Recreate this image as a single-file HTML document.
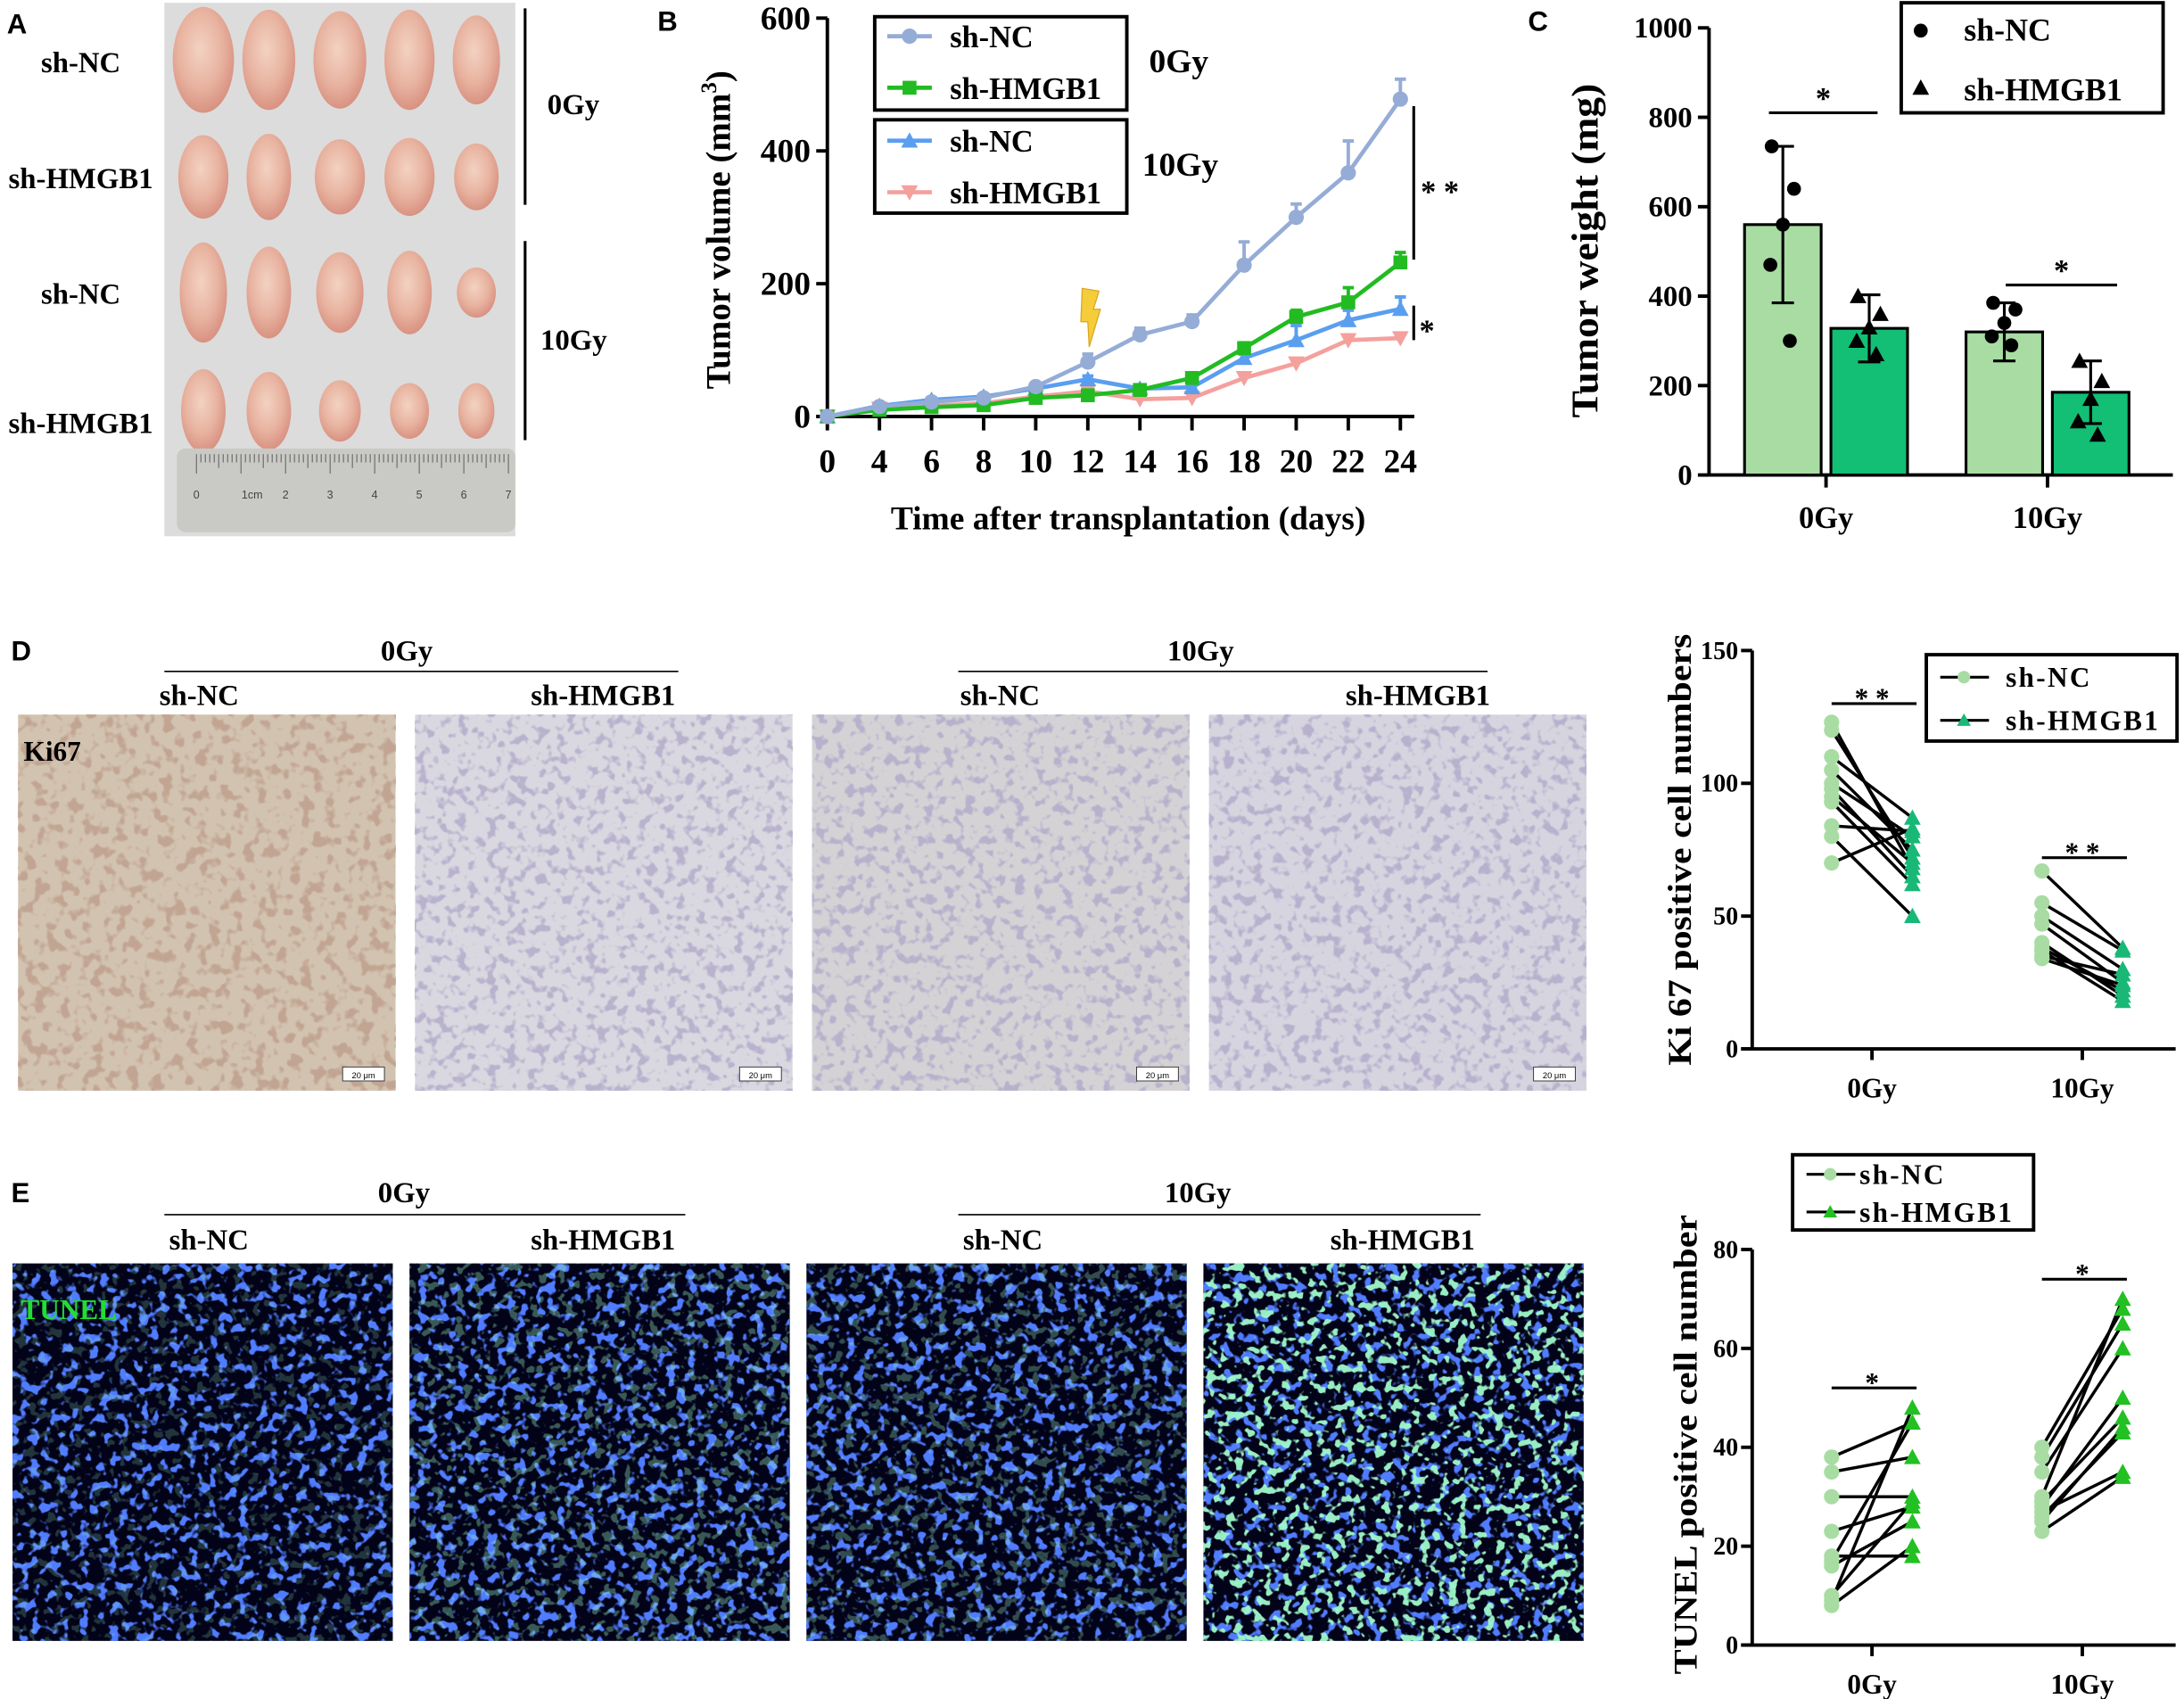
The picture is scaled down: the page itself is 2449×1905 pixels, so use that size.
<!DOCTYPE html>
<html><head><meta charset="utf-8">
<style>
html,body{margin:0;padding:0;background:#fff;}
svg{display:block;}
text{font-family:"Liberation Serif",serif;font-weight:bold;fill:#000;}
.sans{font-family:"Liberation Sans",sans-serif;}
</style></head>
<body>
<svg id="fig" width="2449" height="1905" viewBox="0 0 1568 1219.7" xmlns="http://www.w3.org/2000/svg">
<defs>
  <filter id="ihc1" x="0" y="0" width="100%" height="100%">
    <feTurbulence type="fractalNoise" baseFrequency="0.12" numOctaves="2" seed="3" result="n"/>
    <feColorMatrix in="n" type="matrix" values="0 0 0 0 0.5  0 0 0 0 0.33  0 0 0 0 0.25  7 0 0 0 -3.6"/>
  </filter>
  <filter id="ihc2" x="0" y="0" width="100%" height="100%">
    <feTurbulence type="fractalNoise" baseFrequency="0.14" numOctaves="2" seed="7" result="n"/>
    <feColorMatrix in="n" type="matrix" values="0 0 0 0 0.42  0 0 0 0 0.38  0 0 0 0 0.58  7 0 0 0 -3.7"/>
  </filter>
  <filter id="tun" x="0" y="0" width="100%" height="100%">
    <feTurbulence type="fractalNoise" baseFrequency="0.14" numOctaves="2" seed="5" result="n"/>
    <feColorMatrix in="n" type="matrix" values="0 0 0 0 0.08  0 0 0 0 0.2  0 0 0 0 1  10 0 0 0 -5.5"/>
  </filter>
  <filter id="tung" x="0" y="0" width="100%" height="100%">
    <feTurbulence type="fractalNoise" baseFrequency="0.15" numOctaves="2" seed="11" result="n"/>
    <feColorMatrix in="n" type="matrix" values="0 0 0 0 0.35  0 0 0 0 0.95  0 0 0 0 0.6  12 0 0 0 -6.8"/>
  </filter>
  <radialGradient id="tum" cx="0.45" cy="0.4" r="0.6">
    <stop offset="0" stop-color="#f3d2c2"/><stop offset="0.6" stop-color="#e8b3a0"/><stop offset="1" stop-color="#d99282"/>
  </radialGradient>
</defs>

<!-- Panel A -->
<g>
  <text class="sans" x="5" y="24" font-size="20">A</text>
  <rect x="118" y="2" width="252" height="383" fill="#dcdcdc"/>
  <g id="tumors"></g>
  <rect x="127" y="322" width="243" height="60" rx="6" fill="#c9c9c6"/>
  <g id="ruler"></g>
  <text x="58" y="52" font-size="21" text-anchor="middle">sh-NC</text>
  <text x="58" y="135" font-size="21" text-anchor="middle">sh-HMGB1</text>
  <text x="58" y="218" font-size="21" text-anchor="middle">sh-NC</text>
  <text x="58" y="311" font-size="21" text-anchor="middle">sh-HMGB1</text>
  <line x1="377" y1="6" x2="377" y2="147" stroke="#000" stroke-width="2"/>
  <line x1="377" y1="173" x2="377" y2="316" stroke="#000" stroke-width="2"/>
  <text x="393" y="82" font-size="21">0Gy</text>
  <text x="388" y="251" font-size="21">10Gy</text>
</g>

<!-- Panel B -->
<g id="panelB">
  <text class="sans" x="472" y="22" font-size="20">B</text>
</g>
<!-- Panel C -->
<g id="panelC">
  <text class="sans" x="1097" y="22" font-size="20">C</text>
</g>

<!-- Panel D -->
<g>
  <text class="sans" x="8" y="474" font-size="20">D</text>
  <text x="292" y="474" font-size="21" text-anchor="middle">0Gy</text>
  <line x1="118" y1="482" x2="487" y2="482" stroke="#000" stroke-width="1"/>
  <text x="862" y="474" font-size="21" text-anchor="middle">10Gy</text>
  <line x1="688" y1="482" x2="1068" y2="482" stroke="#000" stroke-width="1"/>
  <text x="143" y="506" font-size="21" text-anchor="middle">sh-NC</text>
  <text x="433" y="506" font-size="21" text-anchor="middle">sh-HMGB1</text>
  <text x="718" y="506" font-size="21" text-anchor="middle">sh-NC</text>
  <text x="1018" y="506" font-size="21" text-anchor="middle">sh-HMGB1</text>
  <g id="ihcImgs"></g>
  <text x="17" y="546" font-size="20">Ki67</text>
</g>
<g id="panelKi"></g>

<!-- Panel E -->
<g>
  <text class="sans" x="8" y="863" font-size="20">E</text>
  <text x="290" y="863" font-size="21" text-anchor="middle">0Gy</text>
  <line x1="118" y1="872" x2="492" y2="872" stroke="#000" stroke-width="1"/>
  <text x="860" y="863" font-size="21" text-anchor="middle">10Gy</text>
  <line x1="688" y1="872" x2="1063" y2="872" stroke="#000" stroke-width="1"/>
  <text x="150" y="897" font-size="21" text-anchor="middle">sh-NC</text>
  <text x="433" y="897" font-size="21" text-anchor="middle">sh-HMGB1</text>
  <text x="720" y="897" font-size="21" text-anchor="middle">sh-NC</text>
  <text x="1007" y="897" font-size="21" text-anchor="middle">sh-HMGB1</text>
  <g id="tunImgs"></g>
  <text x="15" y="947" font-size="20" style="fill:#22dd33">TUNEL</text>
</g>
<g id="panelTu"></g>
</svg>

<script>
// ---------- Panel B data ----------
const daysB = [0,4,6,8,10,12,14,16,18,20,22,24];
const ncB0 = [0,15,22,28,45,82,123,143,228,300,367,478];
const ncB0err = [0,3,5,4,4,12,10,10,35,20,48,30];
const hmB0 = [0,10,14,17,28,32,40,58,103,150,172,232];
const hmB0err = [0,2,3,3,3,4,4,5,8,10,22,15];
const ncB10 = [0,16,25,30,42,56,42,44,88,115,145,162];
const ncB10err = [0,2,3,3,3,5,4,4,6,22,15,18];
const hmB10 = [0,12,16,20,30,38,26,28,58,80,115,118];
const hmB10err = [0,2,2,2,3,3,3,3,5,5,8,6];
const yTicksB = [0,200,400,600];
// ---------- Panel C data ----------
const groupsC = ['0Gy','10Gy'];
const ncC = [560,320];
const ncCerr = [175,65];
const hmC = [328,185];
const hmCerr = [75,70];
const ncCpts = [[735,640,560,470,300],[385,370,340,310,290]];
const hmCpts = [[400,360,330,300,270],[255,210,170,120,90]];
const yTicksC = [0,200,400,600,800,1000];
// ---------- Ki67 data ----------
const groupsK = ['0Gy','10Gy'];
const kiNC0 = [123,120,110,105,100,98,95,93,84,80,70];
const kiHM0 = [68,72,87,75,80,65,70,62,82,50,83];
const kiNC10 = [67,55,50,47,40,38,37,35,34];
const kiHM10 = [38,37,30,25,20,22,18,28,24];
const yTicksK = [0,50,100,150];
// ---------- TUNEL data ----------
const tuNC0 = [38,35,30,23,18,17,16,9,8,10];
const tuHM0 = [45,38,30,28,18,45,25,48,20,29];
const tuNC10 = [40,38,35,30,29,28,27,25,23,26];
const tuHM10 = [68,65,60,70,46,50,35,44,34,43];
const yTicksT = [0,20,40,60,80];

const NS='http://www.w3.org/2000/svg';
function mk(parent, tag, attrs, txt){
  const e=document.createElementNS(NS,tag);
  for(const k in attrs) e.setAttribute(k,attrs[k]);
  if(txt!==undefined) e.textContent=txt;
  parent.appendChild(e); return e;
}

// ---------- Panel A tumors ----------
(function(){
  const g=document.getElementById('tumors');
  const cols=[146,193,244,294,342];
  const rows=[[43,[22,19,19,18,17],[38,36,35,36,32]],[127,[18,16,18,18,16],[30,31,27,28,24]],[210,[17,16,17,16,14],[36,33,29,30,18]],[295,[16,16,15,14,13],[30,28,22,20,20]]];
  rows.forEach((r,ri)=>{cols.forEach((cx,ci)=>{
    const el=mk(g,'ellipse',{cx:cx,cy:r[0],rx:r[1][ci],ry:r[2][ci],fill:'url(#tum)'});
    
    
  });});
  const rg=document.getElementById('ruler');
  for(let i=0;i<=70;i++){
    const x=141+i*3.2;
    mk(rg,'line',{x1:x,y1:326,x2:x,y2:326+(i%10==0?14:(i%5==0?10:6)),stroke:'#555','stroke-width':0.6});
  }
  ['0','1cm','2','3','4','5','6','7'].forEach((t,i)=>mk(rg,'text',{x:141+i*32+(i==1?8:0),y:358,'font-size':8,'text-anchor':'middle',class:'sans',style:'font-weight:normal;fill:#444'},t));
})();

// ---------- Panel B ----------
(function(){
  const g=document.getElementById('panelB');
  const x0=594, dx=37.4, yb=299, ky=286/600;
  const X=i=>x0+i*dx, Y=v=>yb-v*ky;
  mk(g,'line',{x1:x0,y1:Y(0),x2:x0,y2:Y(600),stroke:'#000','stroke-width':2.5});
  mk(g,'line',{x1:x0-8,y1:yb,x2:X(11)+10,y2:yb,stroke:'#000','stroke-width':2.5});
  yTicksB.forEach(t=>{mk(g,'line',{x1:x0-8,y1:Y(t),x2:x0,y2:Y(t),stroke:'#000','stroke-width':2.5});
    mk(g,'text',{x:x0-12,y:Y(t)+8,'font-size':24,'text-anchor':'end'},t);});
  daysB.forEach((d,i)=>{mk(g,'line',{x1:X(i),y1:yb,x2:X(i),y2:yb+10,stroke:'#000','stroke-width':2.5});
    mk(g,'text',{x:X(i),y:yb+40,'font-size':24,'text-anchor':'middle'},d);});
  mk(g,'text',{x:810,y:380,'font-size':24,'text-anchor':'middle'},'Time after transplantation (days)');
  const yl=mk(g,'text',{x:0,y:0,'font-size':25,'text-anchor':'middle',transform:'translate(524,165) rotate(-90)'},'Tumor volume  (mm');
  mk(yl,'tspan',{dy:-10,'font-size':16},'3');
  mk(yl,'tspan',{dy:10},')');
  const series=[[hmB10,hmB10err,'#f4a09d','tri-down','sh-hmgb1-10gy'],[ncB10,ncB10err,'#5a9ef0','tri','sh-nc-10gy'],[hmB0,hmB0err,'#22bb22','sq','sh-hmgb1-0gy'],[ncB0,ncB0err,'#95acd6','circ','sh-nc-0gy']];
  function marker(p,x,y,c,t){
    if(t=='circ') return mk(p,'circle',{cx:x,cy:y,r:5.5,fill:c});
    if(t=='sq') return mk(p,'rect',{x:x-5,y:y-5,width:10,height:10,fill:c});
    if(t=='tri') return mk(p,'path',{d:`M${x},${y-6}L${x+6},${y+5}L${x-6},${y+5}Z`,fill:c});
    return mk(p,'path',{d:`M${x},${y+6}L${x+6},${y-5}L${x-6},${y-5}Z`,fill:c});
  }
  series.forEach(s=>{
    const sg=mk(g,'g',{});
    
    
    s[0].forEach((v,i)=>{ if(s[1][i]>0){
      mk(sg,'line',{x1:X(i),y1:Y(v),x2:X(i),y2:Y(v+s[1][i]),stroke:s[2],'stroke-width':2.5});
      mk(sg,'line',{x1:X(i)-4,y1:Y(v+s[1][i]),x2:X(i)+4,y2:Y(v+s[1][i]),stroke:s[2],'stroke-width':2.5});}});
    mk(sg,'polyline',{points:s[0].map((v,i)=>X(i)+','+Y(v)).join(' '),fill:'none',stroke:s[2],'stroke-width':3});
    s[0].forEach((v,i)=>{const m=marker(sg,X(i),Y(v),s[2],s[3]);
      
      });
  });
  mk(g,'path',{d:'M777,207 L789,209 L785,222 L790,222 L782,249 L781,231 L776,231 Z',fill:'#f5cc3a',stroke:'#d9a520','stroke-width':0.8});
  mk(g,'line',{x1:1015,y1:Y(478)+5,x2:1015,y2:Y(232)-2,stroke:'#000','stroke-width':2});
  mk(g,'text',{x:1020,y:Y(340)+8,'font-size':22},'* *');
  mk(g,'line',{x1:1015,y1:Y(167),x2:1015,y2:Y(115),stroke:'#000','stroke-width':2});
  mk(g,'text',{x:1019,y:Y(130)+8,'font-size':22},'*');
  const lg=mk(g,'g',{});
  
  
  mk(lg,'rect',{x:628,y:12,width:181,height:67,fill:'#fff',stroke:'#000','stroke-width':2.5});
  mk(lg,'rect',{x:628,y:86,width:181,height:67,fill:'#fff',stroke:'#000','stroke-width':2.5});
  const le=[[26,'#95acd6','circ','sh-NC'],[63,'#22bb22','sq','sh-HMGB1'],[101,'#5a9ef0','tri','sh-NC'],[138,'#f4a09d','tri-down','sh-HMGB1']];
  le.forEach(l=>{mk(lg,'line',{x1:637,y1:l[0],x2:669,y2:l[0],stroke:l[1],'stroke-width':3});
    marker(lg,653,l[0],l[1],l[2]);
    mk(lg,'text',{x:682,y:l[0]+8,'font-size':22},l[3]);});
  mk(g,'text',{x:825,y:52,'font-size':24},'0Gy');
  mk(g,'text',{x:820,y:126,'font-size':24},'10Gy');
})();

// ---------- Panel C ----------
(function(){
  const g=document.getElementById('panelC');
  const ax=1227, yb=341, ky=321/1000;
  const Y=v=>yb-v*ky;
  const gx=[1311,1470], off=31, bw=55;
  mk(g,'line',{x1:ax,y1:Y(0),x2:ax,y2:Y(1000),stroke:'#000','stroke-width':2.5});
  mk(g,'line',{x1:ax,y1:yb,x2:1560,y2:yb,stroke:'#000','stroke-width':2.5});
  yTicksC.forEach(t=>{mk(g,'line',{x1:ax-8,y1:Y(t),x2:ax,y2:Y(t),stroke:'#000','stroke-width':2.5});
    mk(g,'text',{x:ax-12,y:Y(t)+7,'font-size':21,'text-anchor':'end'},t);});
  groupsC.forEach((lab,i)=>{
    mk(g,'line',{x1:gx[i],y1:yb,x2:gx[i],y2:yb+9,stroke:'#000','stroke-width':2.5});
    mk(g,'text',{x:gx[i],y:yb+38,'font-size':22,'text-anchor':'middle'},lab);
    [[ncC,ncCerr,ncCpts,'#a8dca3',-off,'circ'],[hmC,hmCerr,hmCpts,'#13be75',off,'tri']].forEach(s=>{
      const cx=gx[i]+s[4], v=s[0][i], e=s[1][i];
      const b=mk(g,'rect',{x:cx-bw/2,y:Y(v),width:bw,height:yb-Y(v),fill:s[3],stroke:'#000','stroke-width':2});
      
      
      mk(g,'line',{x1:cx,y1:Y(v-e),x2:cx,y2:Y(v+e),stroke:'#000','stroke-width':2});
      mk(g,'line',{x1:cx-8,y1:Y(v+e),x2:cx+8,y2:Y(v+e),stroke:'#000','stroke-width':2});
      mk(g,'line',{x1:cx-8,y1:Y(v-e),x2:cx+8,y2:Y(v-e),stroke:'#000','stroke-width':2});
      s[2][i].forEach((p,j)=>{const px=cx+[-8,8,0,-9,5][j];
        if(s[5]=='circ') mk(g,'circle',{cx:px,cy:Y(p),r:5,fill:'#000'});
        else mk(g,'path',{d:`M${px},${Y(p)-6}L${px+6},${Y(p)+5}L${px-6},${Y(p)+5}Z`,fill:'#000'});});
    });
  });
  mk(g,'line',{x1:1270,y1:Y(810),x2:1348,y2:Y(810),stroke:'#000','stroke-width':2});
  mk(g,'text',{x:1309,y:Y(810)-3,'font-size':22,'text-anchor':'middle'},'*');
  mk(g,'line',{x1:1440,y1:Y(425),x2:1520,y2:Y(425),stroke:'#000','stroke-width':2});
  mk(g,'text',{x:1480,y:Y(425)-3,'font-size':22,'text-anchor':'middle'},'*');
  mk(g,'text',{x:0,y:0,'font-size':27,'text-anchor':'middle',textLength:240,lengthAdjust:'spacingAndGlyphs',transform:'translate(1147,180) rotate(-90)'},'Tumor weight (mg)');
  const lg=mk(g,'g',{});
  
  
  mk(lg,'rect',{x:1365,y:2,width:188,height:79,fill:'#fff',stroke:'#000','stroke-width':2.5});
  mk(lg,'circle',{cx:1379,cy:22,r:5,fill:'#000'});
  mk(lg,'path',{d:'M1379,57L1385,68L1373,68Z',fill:'#000'});
  mk(lg,'text',{x:1410,y:29,'font-size':23},'sh-NC');
  mk(lg,'text',{x:1410,y:72,'font-size':23},'sh-HMGB1');
})();

// ---------- Micrograph images ----------
(function(){
  const g=document.getElementById('ihcImgs');
  const xs=[13,298,583,868];
  const base=['#d2c3b0','#d9d7df','#d5d2d6','#d6d4df'];
  xs.forEach((x,i)=>{
    const r=mk(g,'rect',{x:x,y:513,width:271,height:270,fill:base[i]});
    
    
    mk(g,'rect',{x:x,y:513,width:271,height:270,filter:i==0?'url(#ihc1)':'url(#ihc2)',opacity:0.75});
    mk(g,'rect',{x:x+233,y:766,width:30,height:10,fill:'#fff',stroke:'#333','stroke-width':0.6});
    mk(g,'text',{x:x+248,y:774,'font-size':6,'text-anchor':'middle',class:'sans',style:'font-weight:normal'},'20 μm');
  });
  const t=document.getElementById('tunImgs');
  xs.forEach((x,i)=>{
    const r=mk(t,'rect',{x:x-4,y:907,width:273,height:271,fill:'#020318'});
    
    
    mk(t,'rect',{x:x-4,y:907,width:273,height:271,filter:'url(#tun)'});
    mk(t,'rect',{x:x-4,y:907,width:273,height:271,filter:'url(#tung)',opacity:[0.2,0.35,0.3,0.95][i]});
  });
})();

// ---------- Paired charts ----------
function paired(gid, ax, yb, ytop, ymax, ticks, gxs, ptsNC, ptsHM, legend, sig, ylabel, ylabX, ylabY, ylabLen){
  const g=document.getElementById(gid);
  const ky=(yb-ytop)/ymax, Y=v=>yb-v*ky;
  mk(g,'line',{x1:ax,y1:yb,x2:ax,y2:ytop,stroke:'#000','stroke-width':2.5});
  mk(g,'line',{x1:ax-8,y1:yb,x2:1562,y2:yb,stroke:'#000','stroke-width':2.5});
  ticks.forEach(t=>{mk(g,'line',{x1:ax-8,y1:Y(t),x2:ax,y2:Y(t),stroke:'#000','stroke-width':2.5});
    mk(g,'text',{x:ax-10,y:Y(t)+6,'font-size':18,'text-anchor':'end'},t);});
  groupsK.forEach((lab,i)=>{
    mk(g,'line',{x1:gxs[i],y1:yb,x2:gxs[i],y2:yb+8,stroke:'#000','stroke-width':2.5});
    mk(g,'text',{x:gxs[i],y:yb+35,'font-size':20,'text-anchor':'middle'},lab);
    const xn=gxs[i]-29, xh=gxs[i]+29;
    ptsNC[i].forEach((v,j)=>{
      mk(g,'line',{x1:xn,y1:Y(v),x2:xh,y2:Y(ptsHM[i][j]),stroke:'#000','stroke-width':2.2});
    });
    ptsNC[i].forEach(v=>{const c=mk(g,'circle',{cx:xn,cy:Y(v),r:5.5,fill:'#a8dca3'});
      
      });
    ptsHM[i].forEach(v=>{const y=Y(v);const p=mk(g,'path',{d:`M${xh},${y-6}L${xh+6},${y+5}L${xh-6},${y+5}Z`,fill:legend.hmc});
      
      });
    mk(g,'line',{x1:xn,y1:Y(sig[i][0]),x2:xh+3,y2:Y(sig[i][0]),stroke:'#000','stroke-width':2});
    mk(g,'text',{x:gxs[i],y:Y(sig[i][0])+3,'font-size':20,'text-anchor':'middle'},sig[i][1]);
  });
  const lg=mk(g,'g',{});
  
  
  const L=legend;
  mk(lg,'rect',{x:L.x,y:L.y,width:L.w,height:L.h,fill:'#fff',stroke:'#000','stroke-width':2.5});
  const r1=L.y+L.h*0.26, r2=L.y+L.h*0.76;
  mk(lg,'line',{x1:L.x+10,y1:r1,x2:L.x+45,y2:r1,stroke:'#000','stroke-width':2});
  mk(lg,'circle',{cx:L.x+27,cy:r1,r:4.5,fill:'#a8dca3'});
  mk(lg,'line',{x1:L.x+10,y1:r2,x2:L.x+45,y2:r2,stroke:'#000','stroke-width':2});
  mk(lg,'path',{d:`M${L.x+27},${r2-5}L${L.x+32},${r2+4}L${L.x+22},${r2+4}Z`,fill:L.hmc});
  mk(lg,'text',{x:L.x+L.tx,y:r1+7,'font-size':20,style:'letter-spacing:1.5px'},'sh-NC');
  mk(lg,'text',{x:L.x+L.tx,y:r2+7,'font-size':20,style:'letter-spacing:1.5px'},'sh-HMGB1');
  mk(g,'text',{x:0,y:0,'font-size':24,'text-anchor':'middle',textLength:ylabLen,lengthAdjust:'spacingAndGlyphs',transform:`translate(${ylabX},${ylabY}) rotate(-90)`},ylabel);
}
paired('panelKi',1258,753,467,150,yTicksK,[1344,1495],[kiNC0,kiNC10],[kiHM0,kiHM10],
  {x:1383,y:470,w:180,h:62,tx:57,hmc:'#19b877'},[[130,'* *'],[72,'* *']],'Ki 67 positive cell numbers',1214,610,310);
paired('panelTu',1258,1181,897,80,yTicksT,[1344,1495],[tuNC0,tuNC10],[tuHM0,tuHM10],
  {x:1287,y:829,w:173,h:54,tx:48,hmc:'#22c022'},[[52,'*'],[74,'*']],'TUNEL positive cell number',1218,1037,330);
</script>
</body></html>
